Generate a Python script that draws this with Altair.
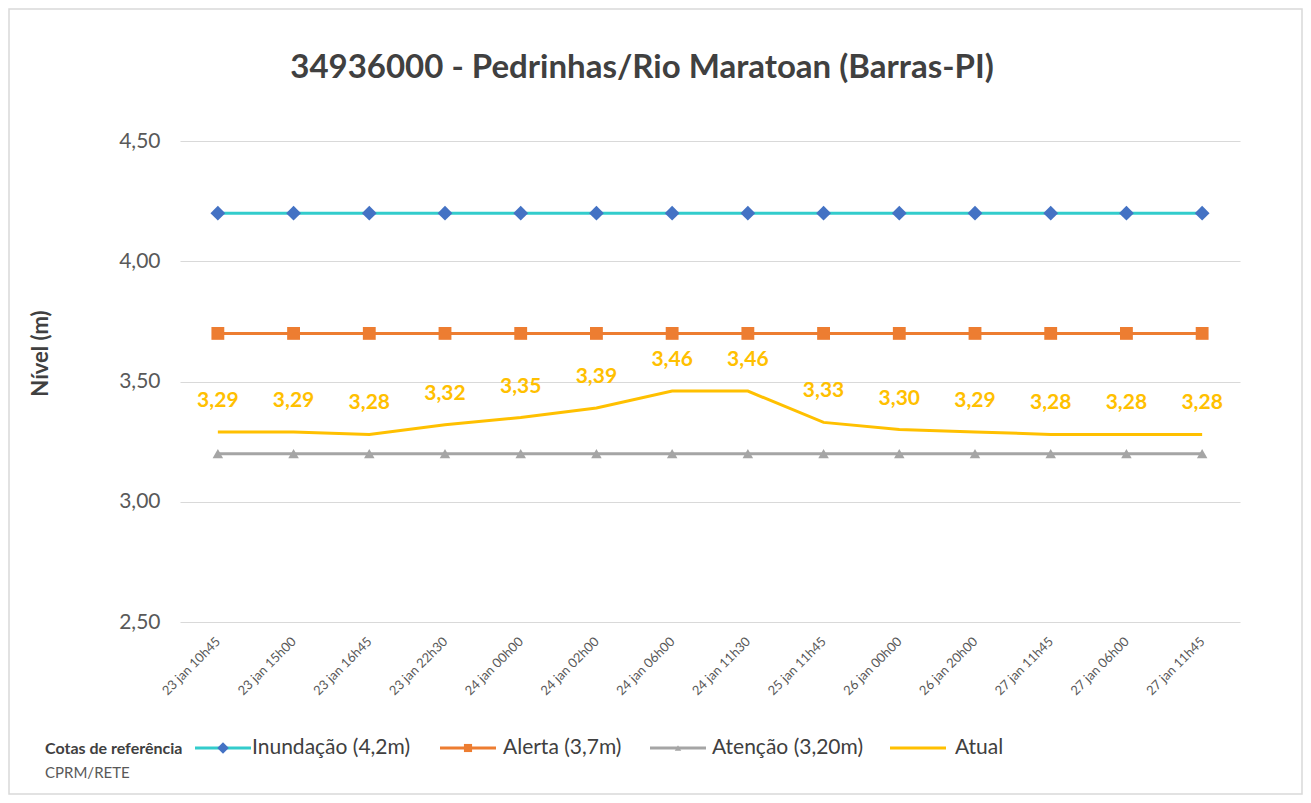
import altair as alt
import pandas as pd

labels = ["23 jan 10h45", "23 jan 15h00", "23 jan 16h45", "23 jan 22h30",
          "24 jan 00h00", "24 jan 02h00", "24 jan 06h00", "24 jan 11h30",
          "25 jan 11h45", "26 jan 00h00", "26 jan 20h00", "27 jan 11h45",
          "27 jan 06h00", "27 jan 11h45"]
inundacao = [4.2] * 14
alerta = [3.7] * 14
atencao = [3.2] * 14
atual = [3.29, 3.29, 3.28, 3.32, 3.35, 3.39, 3.46, 3.46, 3.33, 3.30, 3.29, 3.28, 3.28, 3.28]

series_names = ["Inundação (4,2m)", "Alerta (3,7m)", "Atenção (3,20m)", "Atual"]
line_colors = ["#33CCCC", "#ED7D31", "#A5A5A5", "#FFC000"]
marker_colors = ["#4472C4", "#ED7D31", "#A5A5A5"]
marker_shapes = ["diamond", "square", "triangle-up"]
marker_sizes = [220, 110, 70]

FONT = "Lato"
W, H = 1060, 481
PL, PT, PR, PB = 172, 133, 63, 173

rows = []
for name, vals in zip(series_names, [inundacao, alerta, atencao, atual]):
    for i, v in enumerate(vals):
        rows.append({"idx": i, "serie": name, "valor": v})
df = pd.DataFrame(rows)

label_js = "[" + ",".join("'" + l + "'" for l in labels) + "]"

x_enc = alt.X("idx:O",
              scale=alt.Scale(type="point", padding=0.5),
              axis=alt.Axis(title=None, labelAngle=-45, labelAlign="right",
                            labelBaseline="middle", labelPadding=17,
                            labelExpr=label_js + "[datum.value]",
                            labelFont=FONT, labelFontSize=13, labelColor="#595959",
                            domain=False, ticks=False, grid=False))
y_enc = alt.Y("valor:Q",
              scale=alt.Scale(domain=[2.5, 4.5], nice=False, zero=False),
              axis=alt.Axis(title="Nível (m)", values=[2.5, 3.0, 3.5, 4.0, 4.5],
                            labelExpr="replace(format(datum.value, '.2f'), '.', ',')",
                            labelFont=FONT, labelFontSize=21, labelColor="#595959",
                            labelPadding=20, domain=False, ticks=False,
                            grid=True, gridColor="#D9D9D9", gridWidth=1,
                            titleFont=FONT, titleFontSize=22, titleFontWeight="bold",
                            titleColor="#404040", titleX=-140, titleY=212,
                            titleAngle=-90, titleBaseline="middle", titleAlign="center"))

base = alt.Chart(df)

lines = base.mark_line(strokeWidth=3).encode(
    x=x_enc, y=y_enc,
    color=alt.Color("serie:N", scale=alt.Scale(domain=series_names, range=line_colors), legend=None),
    order="idx:O",
)

points = base.transform_filter(alt.datum.serie != "Atual").mark_point(filled=True, opacity=1).encode(
    x=x_enc, y=y_enc,
    fill=alt.Fill("serie:N", scale=alt.Scale(domain=series_names[:3], range=marker_colors), legend=None),
    shape=alt.Shape("serie:N", scale=alt.Scale(domain=series_names[:3], range=marker_shapes), legend=None),
    size=alt.Size("serie:N", scale=alt.Scale(domain=series_names[:3], range=marker_sizes), legend=None),
)

texts = base.transform_filter(alt.datum.serie == "Atual").transform_calculate(
    lab="replace(format(datum.valor, '.2f'), '.', ',')"
).mark_text(dy=-31, font=FONT, fontSize=21, fontWeight="bold", color="#FFC000").encode(
    x=x_enc, y=y_enc, text="lab:N")

one = alt.Data(values=[{"a": 1}])

border = alt.Chart(one).mark_rect(fill=None, stroke="#D9D9D9", strokeWidth=1.5, clip=False).encode(
    x=alt.value(-PL + 1), x2=alt.value(W + PR - 1),
    y=alt.value(-PT + 1), y2=alt.value(H + PB - 1))

title = alt.Chart(one).mark_text(font=FONT, fontSize=33, fontWeight="bold", color="#404040",
                                 align="center", baseline="middle").encode(
    x=alt.value(462), y=alt.value(-73),
    text=alt.value("34936000 - Pedrinhas/Rio Maratoan (Barras-PI)"))

legend_layers = []
ly = 607
legend_layers.append(alt.Chart(one).mark_text(font=FONT, fontSize=16, fontWeight="bold", color="#404040",
                                              align="left", baseline="middle").encode(
    x=alt.value(-135), y=alt.value(ly + 1), text=alt.value("Cotas de referência")))
legend_layers.append(alt.Chart(one).mark_text(font=FONT, fontSize=15, color="#595959",
                                              align="left", baseline="middle").encode(
    x=alt.value(-135), y=alt.value(ly + 25), text=alt.value("CPRM/RETE")))

item_x = [15, 260, 470, 710]
text_x = [72, 323, 532, 775]
for k, name in enumerate(series_names):
    x0 = item_x[k]
    legend_layers.append(alt.Chart(one).mark_rule(strokeWidth=3, color=line_colors[k]).encode(
        x=alt.value(x0), x2=alt.value(x0 + 56), y=alt.value(ly)))
    if k < 3:
        legend_layers.append(alt.Chart(one).mark_point(filled=True, opacity=1, shape=marker_shapes[k],
                                                       size=marker_sizes[k] * 0.6,
                                                       color=marker_colors[k]).encode(
            x=alt.value(x0 + 28), y=alt.value(ly)))
    legend_layers.append(alt.Chart(one).mark_text(font=FONT, fontSize=21, color="#404040",
                                                  align="left", baseline="middle").encode(
        x=alt.value(text_x[k]), y=alt.value(ly), text=alt.value(name)))

chart = alt.layer(border, lines, points, texts, title, *legend_layers).properties(
    width=W, height=H,
    autosize=alt.AutoSizeParams(type="none"),
    padding={"left": PL, "top": PT, "right": PR, "bottom": PB},
    background="white",
).configure_view(stroke=None)

chart.save("out.html", embed_options={"renderer": "svg", "actions": False})
